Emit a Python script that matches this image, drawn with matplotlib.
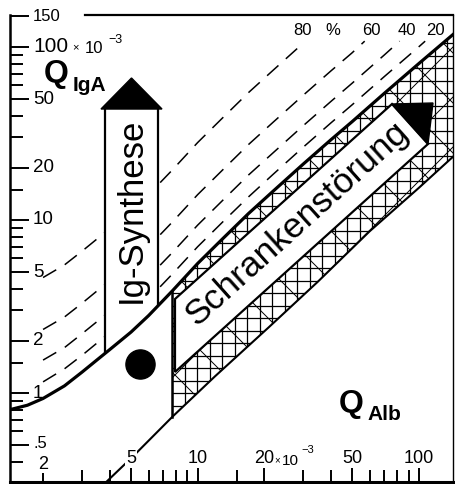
import numpy as np
import matplotlib
matplotlib.use("Agg")
import matplotlib.pyplot as plt
from matplotlib.patches import Polygon
from matplotlib.collections import LineCollection
from matplotlib.transforms import Affine2D, blended_transform_factory
from matplotlib.ticker import FixedLocator, NullFormatter

plt.rcParams['font.family'] = ['Liberation Sans', 'DejaVu Sans']

# Reiber-Diagramm IgA, alle Quotienten in Einheiten von 10^-3
qalb_upper = [1.41, 1.7, 2, 2.5, 3, 3.5, 4, 5, 6, 7.7, 10, 13, 17, 22, 30, 40, 50, 70, 100, 143]
qiga_upper = [0.80, 0.85, 0.93, 1.1, 1.32, 1.55, 1.78, 2.25, 2.8, 3.9, 5.6, 7.8, 10.9, 14.7,
              21, 29, 37, 54, 80, 118]
qalb_lower = [3.8, 5.1, 7.7, 12, 21, 35, 60, 100, 143]
qiga_lower = [0.30, 0.43, 0.73, 1.25, 2.4, 4.4, 8.6, 15.3, 23.2]
qalb_limit = 7.7

# Linien der intrathekalen Fraktion (20/40/60/80 %)
qalb_20 = [2, 2.5, 3, 3.5, 4, 5, 6, 7.7, 10, 13, 17, 22, 30, 40, 50, 70, 100, 107]
qiga_20 = [1.16, 1.38, 1.65, 1.94, 2.23, 2.81, 3.5, 4.88, 7.0, 9.75, 13.6, 18.4, 26.3, 36.3,
           46.3, 67.5, 100, 108]
qalb_40 = [2, 2.5, 3, 3.5, 4, 5, 6, 7.7, 10, 13, 17, 22, 30, 40, 50, 70, 82]
qiga_40 = [1.55, 1.83, 2.2, 2.58, 2.97, 3.75, 4.67, 6.5, 9.33, 13, 18.2, 24.5, 35, 48.3,
           61.7, 90, 108]
qalb_60 = [2, 2.5, 3, 3.5, 4, 5, 6, 7.7, 10, 13, 17, 22, 30, 40, 50, 57]
qiga_60 = [2.33, 2.75, 3.3, 3.88, 4.45, 5.63, 7.0, 9.75, 14, 19.5, 27.3, 36.8, 52.5, 72.5,
           92.5, 108]
qalb_80 = [2, 2.5, 3, 3.5, 4, 5, 6, 7.7, 10, 13, 17, 22, 30]
qiga_80 = [4.65, 5.5, 6.6, 7.75, 8.9, 11.25, 14, 19.5, 28, 39, 54.5, 73.5, 105]
frac_labels = ['80', '%', '60', '40', '20']
frac_label_x = [29.7, 41, 61, 88, 119]

# Patientenwert
dot_x = [5.5]
dot_y = [1.47]

x_major = [2, 5, 10, 20, 50, 100]
x_labels = ['2', '5', '10', '20', '50', '100']
x_minor = [3, 4, 6, 7, 8, 9, 15, 30, 40, 60, 70, 80, 90]
y_major = [0.5, 1, 2, 5, 10, 20, 50, 100, 150]
y_labels = ['.5', '1', '2', '5', '10', '20', '50', '100', '150']
y_minor = [0.4, 0.6, 0.7, 0.8, 0.9, 1.5, 3, 4, 6, 7, 8, 9, 15, 30, 40, 60, 70, 80, 90]

W, H = 455, 484
fig = plt.figure(figsize=(W / 100, H / 100), dpi=100)
L, R, T, B = 9.5, 453, 15, 482
ax = fig.add_axes([L / W, (H - B) / H, (R - L) / W, (B - T) / H])
ax.set_xscale('log')
ax.set_yscale('log')
ax.set_xlim(1.41, 143)
ax.set_ylim(0.306, 153)

# Pixel-Koordinaten des Bildes (Ursprung oben links) fuer Beschriftungsboxen
px = Affine2D().scale(1 / 100, -1 / 100).translate(0, H / 100) + fig.dpi_scale_trans

# Achsen
ax.spines['left'].set_linewidth(1.8)
ax.spines['bottom'].set_linewidth(2.2)
ax.spines['right'].set_linewidth(1.0)
ax.spines['top'].set_linewidth(1.6)
ax.spines['top'].set_bounds(3.1, 143)

ax.xaxis.set_major_locator(FixedLocator(x_major))
ax.xaxis.set_minor_locator(FixedLocator(x_minor))
ax.yaxis.set_major_locator(FixedLocator(y_major))
ax.yaxis.set_minor_locator(FixedLocator(y_minor))
for axis in (ax.xaxis, ax.yaxis):
    axis.set_major_formatter(NullFormatter())
    axis.set_minor_formatter(NullFormatter())
ax.tick_params(which='both', direction='in', width=1.4, top=False, right=False)
ax.tick_params(axis='y', which='major', length=14)
ax.tick_params(axis='y', which='minor', length=9.5)
ax.tick_params(axis='x', which='major', length=12)
ax.tick_params(axis='x', which='minor', length=9)

ytr = blended_transform_factory(ax.transAxes, ax.transData)
xtr = blended_transform_factory(ax.transData, ax.transAxes)
for v, lab in zip(y_major, y_labels):
    fs = 12 if lab in ('150', '.5') else (15 if lab == '100' else 13.5)
    yv = v * 1.02 if lab == '.5' else v
    ax.text(0.053, yv, lab, transform=ytr, ha='left', va='center', fontsize=fs, zorder=6)
for v, lab in zip(x_major, x_labels):
    yf = 0.038 if lab == '2' else 0.05
    ax.text(v, yf, lab, transform=xtr, ha='center', va='center', fontsize=13, zorder=6,
            bbox=dict(facecolor='white', edgecolor='none', pad=0.5))
# Einheiten-Zusaetze
ax.text(75, 47, '\u00d7', transform=px, ha='center', va='center', fontsize=8)
ax.text(85, 53, '10', transform=px, ha='left', va='baseline', fontsize=12)
ax.text(108, 43, '\u22123', transform=px, ha='left', va='baseline', fontsize=9)
ax.text(277, 460, '\u00d7', transform=px, ha='center', va='center', fontsize=7)
ax.text(282, 465, '10', transform=px, ha='left', va='baseline', fontsize=11)
ax.text(301, 453, '\u22123', transform=px, ha='left', va='baseline', fontsize=8)

# Schraffur des Bereichs der Schrankenstoerung
i0 = qalb_upper.index(qalb_limit)
j0 = qalb_lower.index(qalb_limit)
hatch_verts = list(zip(qalb_upper[i0:], qiga_upper[i0:])) + \
    list(zip(qalb_lower[j0:], qiga_lower[j0:]))[::-1]
hatch_clip = Polygon(hatch_verts, closed=True, transform=ax.transData)
segs = [[(150, y), (460, y)] for y in np.arange(18, 480, 12.5)]
segs += [[(x, 0), (x, 484)] for x in np.arange(172, 460, 12.5)]
hl = LineCollection(segs, colors='black', linewidths=0.9, transform=px, zorder=1)
hl.set_clip_path(hatch_clip)
ax.add_collection(hl)
dsegs = [[(c, 0), (c - 484, 484)] for c in np.arange(150, 1000, 50)]
dsegs += [[(c, 0), (c + 484, 484)] for c in np.arange(-500, 460, 50)]
dl = LineCollection(dsegs, colors='black', linewidths=0.7, transform=px, zorder=1)
dl.set_clip_path(hatch_clip)
ax.add_collection(dl)

# gestrichelte Linien
for xs, ys in [(qalb_20, qiga_20), (qalb_40, qiga_40), (qalb_60, qiga_60), (qalb_80, qiga_80)]:
    ax.plot(xs, ys, color='black', lw=1.1, dashes=(10, 6.5), zorder=2)
for xv, lab in zip(frac_label_x, frac_labels):
    ax.text(xv, 124, lab, ha='center', va='center', fontsize=12, zorder=6)

# Pfeilbox "Ig-Synthese", nur oberhalb der Grenzkurve sichtbar
above_clip = Polygon(list(zip(qalb_upper, qiga_upper)) + [(143, 1000), (1.41, 1000)],
                     closed=True, transform=ax.transData)
ig_box = Polygon([(105, 400), (105, 108), (158, 108), (158, 400)], closed=True,
                 transform=px, facecolor='white', edgecolor='black', lw=1.6, zorder=3)
ax.add_patch(ig_box)
ig_box.set_clip_path(above_clip)
ax.add_patch(Polygon([(101, 109), (162, 109), (131.5, 78)], closed=True, transform=px,
                     facecolor='black', edgecolor='black', lw=1, zorder=3))
ax.text(131.5, 210, 'Ig-Synthese', transform=px, rotation=90, ha='center', va='center',
        rotation_mode='anchor', fontsize=25, zorder=6)

# Pfeilbox "Schrankenstoerung"
sb = Polygon([(175, 299), (392, 104), (428, 144), (175, 372)], closed=True, transform=px,
             facecolor='white', edgecolor='black', lw=1.6, zorder=3)
ax.add_patch(sb)
ax.add_patch(Polygon([(392, 104), (433, 103), (428, 144)], closed=True, transform=px,
                     facecolor='black', edgecolor='black', lw=1, zorder=3))
ax.text(297, 224, 'Schrankenst\u00f6rung', transform=px, rotation=42, ha='center', va='center',
        rotation_mode='anchor', fontsize=25.5, zorder=6)

# Grenzkurven
ax.plot(qalb_upper, qiga_upper, color='black', lw=2.3, zorder=4)
ax.plot(qalb_lower, qiga_lower, color='black', lw=1.5, zorder=4)
ax.plot([qalb_limit, qalb_limit], [qiga_lower[j0], qiga_upper[i0]], color='black', lw=1.8, zorder=4)

ax.scatter(dot_x, dot_y, s=440, color='black', zorder=5)

# Achsentitel
ax.text(44, 82, 'Q', transform=px, ha='left', va='baseline', fontsize=23, fontweight='bold')
ax.text(73, 91, 'IgA', transform=px, ha='left', va='baseline', fontsize=15, fontweight='bold')
ax.text(339, 412, 'Q', transform=px, ha='left', va='baseline', fontsize=23, fontweight='bold')
ax.text(367, 420, 'Alb', transform=px, ha='left', va='baseline', fontsize=15, fontweight='bold')

fig.savefig('out.png', dpi=100)
